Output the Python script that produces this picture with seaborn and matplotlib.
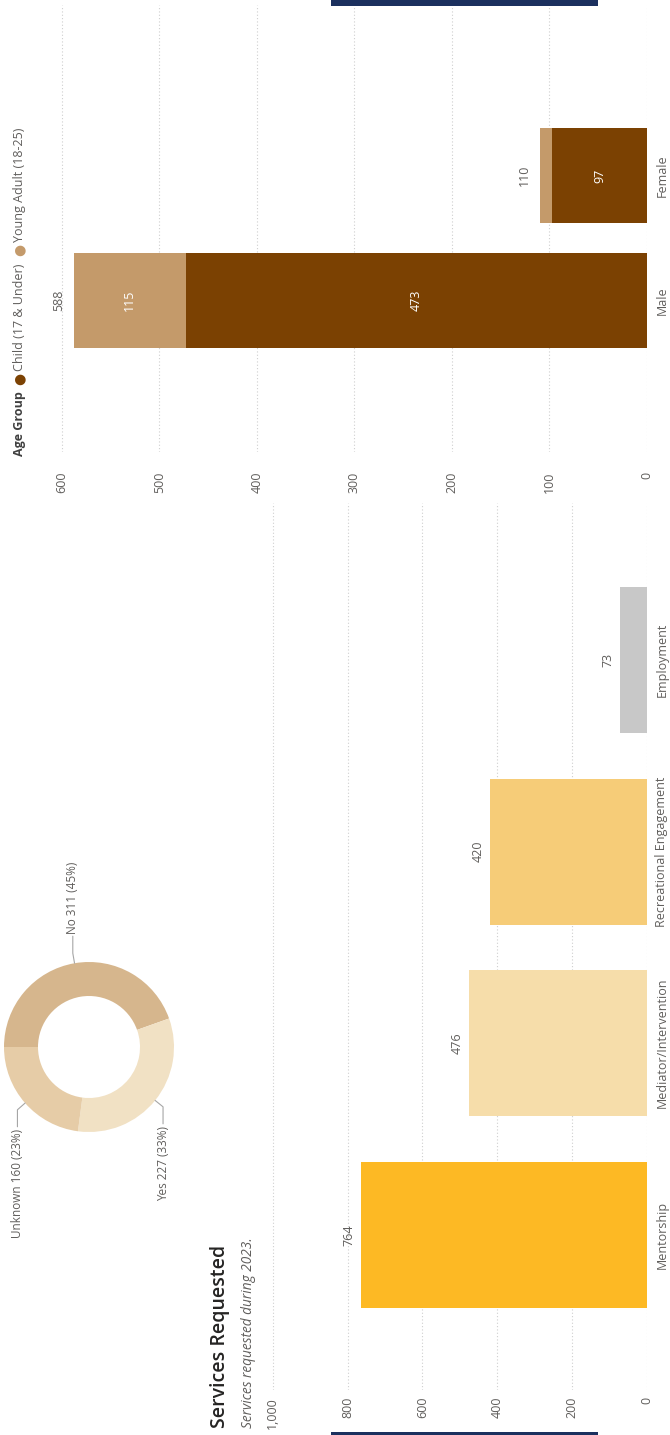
import numpy as np
import pandas as pd
import seaborn as sns
import matplotlib.pyplot as plt
from matplotlib.patches import Rectangle

# ---------------- data ----------------
serviceNames = ['Mentorship', 'Mediator/Intervention', 'Recreational Engagement', 'Employment']
serviceCounts = [764, 476, 420, 73]
serviceColors = ['#FDB924', '#F6DDAA', '#F6CC78', '#C8C8C8']
serviceTicks = [0, 200, 400, 600, 800, 1000]

genderNames = ['Male', 'Female']
childCounts = [473, 97]
youngAdultCounts = [115, 13]
ageTicks = [0, 100, 200, 300, 400, 500, 600]
childColor = '#7B4102'
youngColor = '#C49A6A'

donutNames = ['No', 'Yes', 'Unknown']
donutCounts = [311, 227, 160]
donutColors = ['#D6B68D', '#F1E1C4', '#E6CCA7']

sns.set_theme(style='white')
plt.rcParams['font.family'] = ['Open Sans', 'DejaVu Sans']

greyText = '#605E5C'
W, H = 670, 1435


def box(x0, y0, x1, y1):
    # pixel box (top-left origin) -> figure fraction
    return [x0 / W, 1 - y1 / H, (x1 - x0) / W, (y1 - y0) / H]


fig = plt.figure(figsize=(W / 100, H / 100), dpi=100)
fig.patch.set_facecolor('white')

#---------------- Services Requested ----------------
dfServ = pd.DataFrame({'Service': serviceNames, 'Count': serviceCounts})
ax = fig.add_axes(box(266, 503, 647, 1390))
sns.barplot(data=dfServ, x='Count', y='Service', hue='Service', palette=serviceColors,
            orient='h', width=0.762, saturation=1, legend=False, linewidth=0, ax=ax)
ax.set_xlim(1018, 0)
ax.set_ylim(-0.81, 3.82)
ax.set_xticks(serviceTicks)
ax.set_xticklabels([f'{t:,}' for t in serviceTicks])
ax.tick_params(axis='x', length=0, pad=5, labelsize=9, labelcolor=greyText, labelrotation=90)
ax.yaxis.tick_right()
ax.tick_params(axis='y', length=0, pad=6, labelsize=9, labelcolor=greyText)
plt.setp(ax.get_yticklabels(), rotation=90, va='center', ha='left')
ax.set_xlabel('')
ax.set_ylabel('')
ax.grid(axis='x', color='#CFCFCF', linestyle=(0, (1, 2)), linewidth=0.8)
ax.set_axisbelow(True)
for s in ax.spines.values():
    s.set_visible(False)
for i, v in enumerate(serviceCounts):
    ax.annotate(str(v), xy=(v, i), xytext=(-4, 0), textcoords='offset points',
                rotation=90, ha='right', va='center', fontsize=9, color=greyText)

fig.text(220 / W, 1 - 1428 / H, 'Services Requested', rotation=90, ha='center', va='bottom',
         fontsize=14, fontweight='semibold', color='#252423')
fig.text(248 / W, 1 - 1428 / H, 'Services requested during 2023.', rotation=90, ha='center',
         va='bottom', fontsize=9.8, style='italic', color=greyText)

#---------------- Age Group by gender ----------------
dfAge = pd.DataFrame({'Gender': genderNames, 'Child': childCounts, 'Young Adult': youngAdultCounts})
dfAge['Total'] = dfAge['Child'] + dfAge['Young Adult']

ax2 = fig.add_axes(box(55, 5, 647, 452))
sns.barplot(data=dfAge, x='Total', y='Gender', color=youngColor, orient='h', width=0.76,
            saturation=1, linewidth=0, ax=ax2)
sns.barplot(data=dfAge, x='Child', y='Gender', color=childColor, orient='h', width=0.76,
            saturation=1, linewidth=0, ax=ax2)
ax2.set_xlim(607, 0)
ax2.set_ylim(-1.212, 2.364)
ax2.set_xticks(ageTicks)
ax2.tick_params(axis='x', length=0, pad=14, labelsize=9, labelcolor=greyText, labelrotation=90)
ax2.yaxis.tick_right()
ax2.tick_params(axis='y', length=0, pad=6, labelsize=9, labelcolor=greyText)
plt.setp(ax2.get_yticklabels(), rotation=90, va='center', ha='left')
ax2.set_xlabel('')
ax2.set_ylabel('')
ax2.grid(axis='x', color='#CFCFCF', linestyle=(0, (1, 2)), linewidth=0.8)
ax2.set_axisbelow(True)
for s in ax2.spines.values():
    s.set_visible(False)

for i, row in dfAge.iterrows():
    ax2.annotate(str(row['Total']), xy=(row['Total'], i), xytext=(-6, 0), textcoords='offset points',
                 rotation=90, ha='right', va='center', fontsize=9, color=greyText)
    ax2.text(row['Child'] / 2, i, str(row['Child']), rotation=90, ha='center', va='center',
             fontsize=9, color='white')
    if row['Young Adult'] >= 50:
        ax2.text(row['Child'] + row['Young Adult'] / 2, i, str(row['Young Adult']), rotation=90,
                 ha='center', va='center', fontsize=9, color='white')

# legend (rotated), laid out one piece after another from the bottom up
fig.canvas.draw()
renderer = fig.canvas.get_renderer()
legendItems = [('Age Group', '#404040', 'bold', 9, 6),
               ('●', childColor, 'normal', 10, 2),
               ('Child (17 & Under)', greyText, 'normal', 9, 8),
               ('●', youngColor, 'normal', 10, 2),
               ('Young Adult (18-25)', greyText, 'normal', 9, 0)]
yPix = 456
for txt, col, weight, size, gap in legendItems:
    t = fig.text(20 / W, 1 - yPix / H, txt, rotation=90, ha='center', va='bottom',
                 fontsize=size, fontweight=weight, color=col)
    bb = t.get_window_extent(renderer)
    yPix -= bb.height + gap

#---------------- Donut ----------------
ax3 = fig.add_axes(box(4, 962, 174, 1132))
wedges, _ = ax3.pie(donutCounts, colors=donutColors, startangle=180, counterclock=False,
                    radius=1, wedgeprops=dict(width=0.4, edgecolor='none'))
ax3.set_xlim(-1, 1)
ax3.set_ylim(-1, 1)
ax3.set_aspect('equal')
total = sum(donutCounts)
for w, name, n in zip(wedges, donutNames, donutCounts):
    ang = np.deg2rad((w.theta1 + w.theta2) / 2)
    cx, cy = np.cos(ang), np.sin(ang)
    x1, y1 = 1.12 * cx, 1.12 * cy
    up = 1 if cy > 0 else -1
    y2 = y1 + up * 0.2
    ax3.plot([cx, x1, x1], [cy, y1, y2], color='#A6A6A6', lw=0.8, clip_on=False)
    ax3.text(x1, y2 + up * 0.03, f'{name} {n} ({n / total:.0%})', rotation=90, ha='center',
             va='bottom' if up > 0 else 'top', fontsize=8.5, color=greyText)

# navy header strips
fig.add_artist(Rectangle((331 / W, 1 - 6 / H), 267 / W, 6 / H, transform=fig.transFigure,
                         color='#1B305E', lw=0))
fig.add_artist(Rectangle((331 / W, 0), 267 / W, 3 / H, transform=fig.transFigure,
                         color='#1B305E', lw=0))

plt.savefig('out.png', dpi=100)
